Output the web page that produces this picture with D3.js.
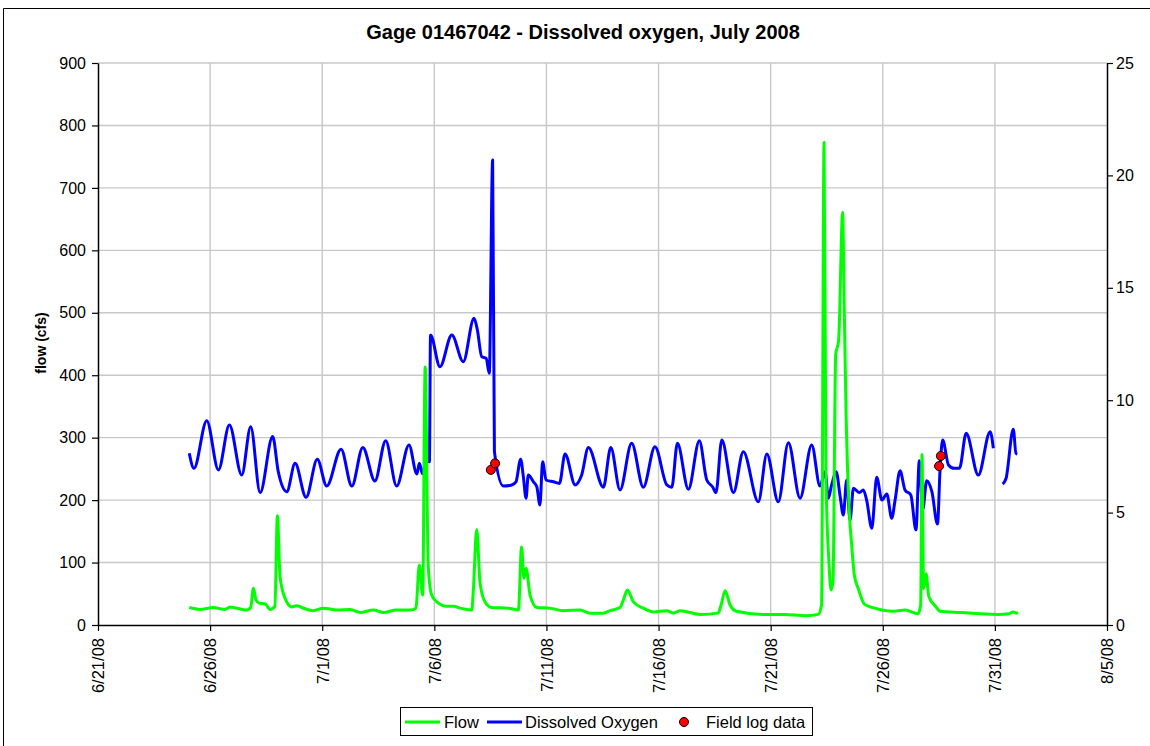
<!DOCTYPE html>
<html lang="en">
<head>
<meta charset="UTF-8">
<title>Gage 01467042 - Dissolved oxygen, July 2008</title>
<script src="https://d3js.org/d3.v7.min.js"></script>
<style>
    body { margin: 0; background: #fff; }
    svg { font-family: "Liberation Sans", Arial, sans-serif; }
</style>
</head>
<body>
<div id="chart"></div>
<script>
    // days after 6/21/08 00:00
    const xTickDays = [0, 5, 10, 15, 20, 25, 30, 35, 40, 45];
    const flowTicks = [0, 100, 200, 300, 400, 500, 600, 700, 800, 900];
    const doTicks = [0, 5, 10, 15, 20, 25];

    const flowDays = [4.07, 4.55, 5.14, 5.66, 5.89, 6.63, 6.81, 6.93, 7.05, 7.19, 7.45, 7.67, 7.89, 8.00, 8.12, 8.34,
        8.64, 8.86, 9.09, 9.60, 10.05, 10.65, 11.24, 11.69, 12.28, 12.73, 13.32, 13.92, 14.18, 14.33, 14.48, 14.59,
        14.73, 14.88, 15.11, 15.55, 15.88, 16.15, 16.67, 16.74, 16.89, 17.04, 17.26, 17.56, 18.30, 18.75, 18.89, 19.00,
        19.09, 19.27, 19.57, 20.16, 20.75, 21.50, 21.94, 22.54, 22.84, 23.28, 23.43, 23.61, 23.88, 24.32, 24.77, 25.37,
        25.66, 25.96, 26.85, 27.65, 27.79, 27.97, 28.19, 28.47, 29.62, 30.58, 31.56, 32.12, 32.27, 32.38, 32.47, 32.60,
        32.69, 32.78, 32.90, 33.03, 33.21, 33.28, 33.36, 33.51, 33.61, 33.73, 33.91, 34.19, 34.64, 35.45, 35.99, 36.57,
        36.69, 36.75, 36.82, 36.93, 37.05, 37.35, 37.56, 38.53, 39.34, 40.14, 40.63, 40.81, 41.03];
    const flowValues = [28, 25, 28, 25, 29, 24, 28, 59, 40, 35, 34, 25, 30, 175, 77, 43,
        29, 31, 28, 23, 27, 24, 25, 20, 24, 20, 24, 24, 27, 96, 48, 413,
        93, 48, 37, 30, 30, 27, 24, 56, 153, 67, 37, 28, 27, 24, 125, 75,
        91, 48, 28, 27, 23, 24, 19, 19, 23, 28, 40, 56, 37, 27, 21, 23,
        19, 23, 17, 19, 32, 55, 32, 22, 17, 17, 15, 17, 32, 773, 230, 100,
        56, 70, 433, 455, 661, 510, 344, 179, 130, 80, 58, 33, 27, 22, 24, 18,
        32, 273, 58, 82, 46, 30, 22, 20, 18, 17, 18, 21, 18];

    const doDays = [4.07, 4.28, 4.85, 5.37, 5.86, 6.41, 6.81, 7.23, 7.79, 8.04, 8.42, 8.79, 9.28, 9.78, 10.20, 10.84,
        11.32, 11.81, 12.35, 12.83, 13.32, 13.87, 14.22, 14.33, 14.48, 14.63, 14.78, 14.83, 15.25, 15.78, 16.29, 16.77,
        16.92, 17.11, 17.31, 17.45, 17.60, 17.68, 18.08, 18.45, 18.64, 18.85, 18.97, 19.09, 19.19, 19.42, 19.57, 19.71,
        19.83, 19.98, 20.31, 20.58, 20.83, 21.28, 21.57, 21.87, 22.54, 22.87, 23.28, 23.80, 24.32, 24.84, 25.37, 25.59,
        25.84, 26.33, 26.82, 27.15, 27.42, 27.56, 27.82, 28.34, 28.78, 29.45, 29.83, 30.34, 30.79, 31.31, 31.83, 32.20,
        32.43, 32.57, 32.72, 32.92, 33.10, 33.24, 33.39, 33.54, 33.69, 33.96, 34.13, 34.28, 34.51, 34.73, 34.96, 35.18,
        35.40, 35.55, 35.77, 35.99, 36.25, 36.48, 36.63, 36.78, 36.96, 37.19, 37.44, 37.56, 37.67, 37.93, 38.18, 38.42,
        38.72, 39.26, 39.79, 39.93, 40.10, 40.35, 40.50, 40.82, 40.94, 41.00];
    const doValues = [7.64, 6.97, 9.09, 6.90, 8.90, 6.67, 8.82, 5.89, 8.38, 6.82, 5.93, 7.19, 5.68, 7.37, 6.18, 7.82,
        6.18, 7.90, 6.41, 8.20, 6.18, 8.01, 6.72, 7.19, 6.72, 7.31, 7.26, 12.90, 11.49, 12.90, 11.71, 13.64,
        13.12, 11.94, 11.86, 11.20, 20.69, 7.71, 6.18, 6.23, 6.37, 7.37, 6.60, 5.64, 6.67, 6.37, 6.15, 5.34,
        7.26, 6.45, 6.37, 6.30, 7.61, 6.23, 6.67, 7.90, 6.13, 7.90, 6.01, 8.08, 6.13, 7.93, 6.23, 6.13,
        8.08, 6.04, 8.20, 6.45, 6.13, 5.89, 8.23, 5.89, 7.71, 5.48, 7.61, 5.48, 8.11, 5.64, 8.01, 6.18,
        6.82, 5.64, 6.23, 6.82, 5.71, 4.89, 6.45, 4.67, 6.08, 5.89, 6.01, 5.56, 4.30, 6.57, 5.56, 5.83,
        4.75, 5.56, 6.86, 6.01, 5.78, 4.23, 7.31, 5.12, 6.42, 5.93, 4.49, 7.04, 8.23, 7.12, 6.97, 6.97,
        8.53, 6.67, 8.60, 7.86, null, 6.27, 6.53, 8.71, 7.64, 7.61];

    const fieldDays = [17.52, 17.71, 37.51, 37.59];
    const fieldValues = [6.90, 7.19, 7.07, 7.52];

    const width = 1150, height = 746;
    const plot = { left: 98, right: 1107, top: 63, bottom: 625 };
    const font = '"Liberation Sans", Arial, sans-serif';

    const start = Date.UTC(2008, 5, 21);
    const day = d => new Date(start + d * 864e5);

    const svg = d3.select('#chart').append('svg')
        .attr('width', width)
        .attr('height', height);

    // outer chart frame (cut off at right and bottom)
    svg.append('path')
        .attr('d', 'M3.5,' + height + 'V8.5H' + width)
        .attr('fill', 'none')
        .attr('stroke', '#000')
        .attr('stroke-width', 1);

    const x = d3.scaleUtc()
        .domain([day(0), day(45)])
        .range([plot.left, plot.right]);
    const yFlow = d3.scaleLinear().domain([0, 900]).range([plot.bottom, plot.top]);
    const yDO = d3.scaleLinear().domain([0, 25]).range([plot.bottom, plot.top]);

    // gridlines
    const grid = svg.append('g').attr('stroke', '#c8c8c8').attr('stroke-width', 1.4);
    grid.selectAll('line.h')
        .data(flowTicks.slice(1))
        .enter().append('line')
        .attr('x1', plot.left).attr('x2', plot.right)
        .attr('y1', d => yFlow(d)).attr('y2', d => yFlow(d));
    grid.selectAll('line.v')
        .data(xTickDays.slice(1, -1))
        .enter().append('line')
        .attr('x1', d => x(day(d))).attr('x2', d => x(day(d)))
        .attr('y1', plot.top).attr('y2', plot.bottom);

    // axes
    const fmt = d3.utcFormat('%-m/%-d/%y');
    const xAxis = svg.append('g')
        .attr('transform', 'translate(0,' + plot.bottom + ')')
        .call(d3.axisBottom(x).tickValues(xTickDays.map(day)).tickFormat(fmt).tickSize(6).tickSizeOuter(0));
    xAxis.selectAll('text')
        .attr('transform', 'rotate(-90)')
        .attr('x', -13)
        .attr('y', 0)
        .attr('dy', '0.35em')
        .attr('text-anchor', 'end');

    const leftAxis = svg.append('g')
        .attr('transform', 'translate(' + plot.left + ',0)')
        .call(d3.axisLeft(yFlow).tickValues(flowTicks).tickSize(6).tickPadding(6).tickSizeOuter(0));

    const rightAxis = svg.append('g')
        .attr('transform', 'translate(' + plot.right + ',0)')
        .call(d3.axisRight(yDO).tickValues(doTicks).tickSize(6).tickPadding(3).tickSizeOuter(0));

    [xAxis, leftAxis, rightAxis].forEach(a => {
        a.select('.domain').attr('stroke', '#000').attr('stroke-width', 1.5);
        a.selectAll('.tick line').attr('stroke', '#000').attr('stroke-width', 1.2);
        a.selectAll('text').attr('font-family', font).attr('font-size', 16).attr('fill', '#000');
    });
    xAxis.selectAll('text').attr('font-size', 16.5);

    // series
    const flowData = flowDays.map((d, i) => ({ t: day(d), v: flowValues[i] }));
    const doData = doDays.map((d, i) => ({ t: day(d), v: doValues[i] }));
    const fieldData = fieldDays.map((d, i) => ({ t: day(d), v: fieldValues[i] }));

    const doLine = d3.line()
        .defined(d => d.v !== null)
        .curve(d3.curveMonotoneX)
        .x(d => x(d.t))
        .y(d => yDO(d.v));
    const flowLine = d3.line()
        .curve(d3.curveMonotoneX)
        .x(d => x(d.t))
        .y(d => yFlow(d.v));

    svg.append('path')
        .datum(doData)
        .attr('d', doLine)
        .attr('fill', 'none')
        .attr('stroke', '#0000ff')
        .attr('stroke-width', 3)
        .attr('stroke-linejoin', 'round');

    svg.append('path')
        .datum(flowData)
        .attr('d', flowLine)
        .attr('fill', 'none')
        .attr('stroke', '#00ff00')
        .attr('stroke-width', 3)
        .attr('stroke-linejoin', 'round');

    svg.selectAll('circle.field')
        .data(fieldData)
        .enter().append('circle')
        .attr('class', 'field')
        .attr('cx', d => x(d.t))
        .attr('cy', d => yDO(d.v))
        .attr('r', 4.5)
        .attr('fill', '#ff0000')
        .attr('stroke', '#000')
        .attr('stroke-width', 1);

    // titles
    svg.append('text')
        .attr('x', 583)
        .attr('y', 39)
        .attr('text-anchor', 'middle')
        .attr('font-size', 20)
        .attr('font-weight', 'bold')
        .text('Gage 01467042 - Dissolved oxygen, July 2008');

    svg.append('text')
        .attr('transform', 'translate(46,343) rotate(-90)')
        .attr('text-anchor', 'middle')
        .attr('font-size', 14)
        .attr('font-weight', 'bold')
        .text('flow (cfs)');

    // legend
    const legend = svg.append('g');
    legend.append('rect')
        .attr('x', 400.5).attr('y', 707.5)
        .attr('width', 412).attr('height', 28)
        .attr('fill', '#fff')
        .attr('stroke', '#000')
        .attr('stroke-width', 1);
    const ly = 722;
    legend.append('line')
        .attr('x1', 405).attr('x2', 440).attr('y1', ly).attr('y2', ly)
        .attr('stroke', '#00ff00').attr('stroke-width', 3);
    legend.append('text').attr('x', 444).attr('y', ly).attr('dy', '0.36em')
        .attr('font-size', 16.5).text('Flow');
    legend.append('line')
        .attr('x1', 487).attr('x2', 522).attr('y1', ly).attr('y2', ly)
        .attr('stroke', '#0000ff').attr('stroke-width', 3);
    legend.append('text').attr('x', 525).attr('y', ly).attr('dy', '0.36em')
        .attr('font-size', 16.5).text('Dissolved Oxygen');
    legend.append('circle')
        .attr('cx', 684).attr('cy', ly).attr('r', 4.5)
        .attr('fill', '#ff0000').attr('stroke', '#000').attr('stroke-width', 1);
    legend.append('text').attr('x', 706).attr('y', ly).attr('dy', '0.36em')
        .attr('font-size', 16.5).text('Field log data');
</script>
</body>
</html>
